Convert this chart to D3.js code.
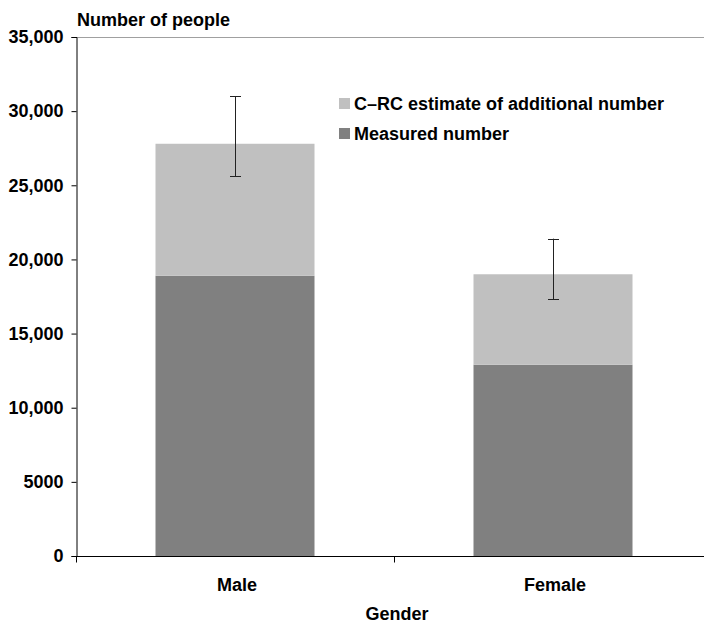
<!DOCTYPE html>
<html>
<head>
<meta charset="utf-8">
<script src="https://cdn.jsdelivr.net/npm/d3@7"></script>
<style>
  html, body { margin: 0; padding: 0; background: #fff; }
  svg { display: block; overflow: hidden; }
  text { font-family: "Liberation Sans", Arial, sans-serif; font-weight: bold; fill: #000; }
</style>
</head>
<body>
<svg id="chart" width="704" height="625"></svg>
<script>
// Categories and stacked series
const categories = ["Male", "Female"];
const measured = [18900, 12900];
const additional = [8900, 6100];          // C–RC estimate on top of the measured count
const errLow = [25600, 17300];
const errHigh = [31000, 21400];
const yTicks = [0, 5000, 10000, 15000, 20000, 25000, 30000, 35000];
const yTickLabels = ["0", "5000", "10,000", "15,000", "20,000", "25,000", "30,000", "35,000"];
const seriesNames = ["C\u2013RC estimate of additional number", "Measured number"];
const seriesColors = ["#c0c0c0", "#808080"];

const svg = d3.select("#chart");
const plotLeft = 76, plotRight = 712, plotTop = 37, plotBottom = 556;

const x = d3.scaleBand().domain(categories).range([plotLeft, plotRight])
  .paddingInner(0.5).paddingOuter(0.25);
const y = d3.scaleLinear().domain([0, 35000]).range([plotBottom, plotTop]);

// Top border of plot area
svg.append("line").attr("x1", plotLeft).attr("x2", plotRight)
  .attr("y1", plotTop + 0.5).attr("y2", plotTop + 0.5)
  .attr("stroke", "#a0a0a0").attr("stroke-width", 1);

// Stacked bars
const rows = categories.map((c, i) => ({ cat: c, measured: measured[i], additional: additional[i] }));
const stack = d3.stack().keys(["measured", "additional"])(rows);
const colorByKey = { measured: seriesColors[1], additional: seriesColors[0] };

svg.append("g").selectAll("g").data(stack).join("g")
  .attr("fill", d => colorByKey[d.key])
  .selectAll("rect").data(d => d).join("rect")
  .attr("x", d => x(d.data.cat))
  .attr("width", x.bandwidth())
  .attr("y", d => y(d[1]))
  .attr("height", d => y(d[0]) - y(d[1]));

// Error bars
const eb = svg.append("g").attr("stroke", "#222").attr("stroke-width", 1);
categories.forEach((c, i) => {
  const cx = Math.round(x(c) + x.bandwidth() / 2) + 0.5;
  eb.append("line").attr("x1", cx).attr("x2", cx)
    .attr("y1", y(errHigh[i])).attr("y2", y(errLow[i]));
  [errHigh[i], errLow[i]].forEach(v => {
    eb.append("line").attr("x1", cx - 5.5).attr("x2", cx + 5.5)
      .attr("y1", Math.round(y(v)) + 0.5).attr("y2", Math.round(y(v)) + 0.5);
  });
});

// Y axis
const yAxis = d3.axisLeft(y).tickValues(yTicks)
  .tickFormat((d, i) => yTickLabels[i]).tickSize(5).tickPadding(8);
const gy = svg.append("g").attr("transform", `translate(${plotLeft + 0.5},0)`).call(yAxis);
gy.select(".domain").attr("stroke", "#000");
gy.selectAll(".tick line").attr("stroke", "#000");
gy.selectAll(".tick text").style("font-size", "18px")
  .style("font-family", "'Liberation Sans', Arial, sans-serif").style("font-weight", "bold");

// X axis: ticks sit on the category boundaries
const gx = svg.append("g").attr("transform", `translate(0,${plotBottom + 0.5})`);
gx.append("line").attr("x1", plotLeft).attr("x2", plotRight).attr("stroke", "#000");
const boundaries = [plotLeft, (x(categories[0]) + x.bandwidth() + x(categories[1])) / 2, plotRight];
gx.selectAll("line.b").data(boundaries).join("line").attr("class", "b")
  .attr("x1", d => Math.round(d) + 0.5).attr("x2", d => Math.round(d) + 0.5)
  .attr("y1", 0).attr("y2", 6).attr("stroke", "#000");
gx.selectAll("text").data(categories).join("text")
  .attr("x", d => x(d) + x.bandwidth() / 2 + 2)
  .attr("y", 34.5)
  .attr("text-anchor", "middle")
  .style("font-size", "18px")
  .text(d => d);

// Axis titles
svg.append("text").attr("x", 77).attr("y", 26).style("font-size", "18px").text("Number of people");
svg.append("text").attr("x", 397).attr("y", 620).attr("text-anchor", "middle")
  .style("font-size", "18px").text("Gender");

// Legend
const legend = svg.append("g");
seriesNames.forEach((name, i) => {
  const ly = 98 + i * 30;
  legend.append("rect").attr("x", 339).attr("y", ly).attr("width", 11).attr("height", 11)
    .attr("fill", seriesColors[i]);
  legend.append("text").attr("x", 354).attr("y", ly + 5.5).attr("dy", "0.35em")
    .style("font-size", "18px").text(name);
});
</script>
</body>
</html>
